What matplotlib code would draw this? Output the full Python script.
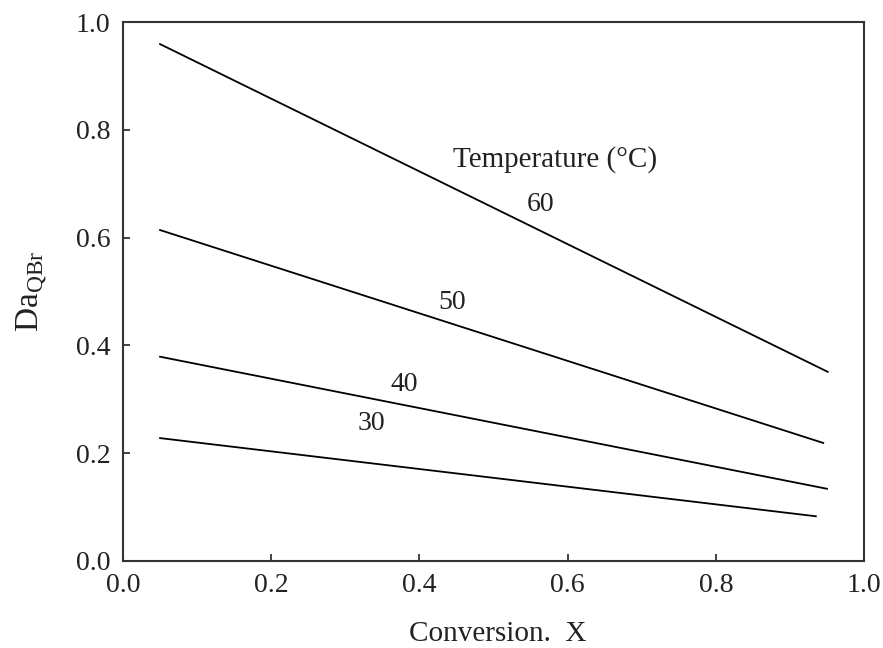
import numpy as np
import matplotlib.pyplot as plt

# Damkoehler number vs conversion at several temperatures
conversion_start = [0.05, 0.05, 0.05, 0.05]
conversion_end = [0.951, 0.945, 0.95, 0.935]
da_start = [0.959, 0.614, 0.379, 0.228]
da_end = [0.351, 0.219, 0.134, 0.083]
temperatures = ["60", "50", "40", "30"]
label_pos_x = [0.563, 0.444, 0.379, 0.335]
label_pos_y = [0.662, 0.479, 0.327, 0.256]
ticks = [0.0, 0.2, 0.4, 0.6, 0.8, 1.0]

plt.rcParams['font.family'] = ['Liberation Serif', 'DejaVu Serif']

fig = plt.figure(figsize=(8.83, 6.48), dpi=100)
ax = fig.add_axes([123 / 883, 1 - 561 / 648, (864 - 123) / 883, (561 - 22) / 648])

for i in range(len(temperatures)):
    ax.plot([conversion_start[i], conversion_end[i]], [da_start[i], da_end[i]],
            color='black', lw=1.3)
    ax.text(label_pos_x[i], label_pos_y[i], temperatures[i], fontsize=20,
            ha='center', va='center', color='#222222')

ax.text(0.583, 0.744, "Temperature (°C)", fontsize=21, ha='center', va='center',
        color='#222222')

ax.set_xlim(0, 1)
ax.set_ylim(0, 1)
ax.set_xticks(ticks)
ax.set_yticks(ticks)
ax.set_xticklabels([f"{v:.1f}" for v in ticks])
ax.set_yticklabels([f"{v:.1f}" for v in ticks])
ax.tick_params(direction='in', length=5, width=1.2, labelsize=20, colors='#222222')
ax.tick_params(axis='x', pad=9)
ax.tick_params(axis='y', pad=9)
for s in ax.spines.values():
    s.set_linewidth(1.5)
    s.set_color('#333333')

ax.set_xlabel("Conversion.  X", fontsize=21, color='#222222')
ax.xaxis.set_label_coords(0.505, -0.112)
ax.set_ylabel(r"Da$_{\mathregular{QBr}}$", fontsize=24, color='#222222')
ax.yaxis.set_label_coords(-0.098, 0.5)

fig.savefig("out.png", dpi=100)
